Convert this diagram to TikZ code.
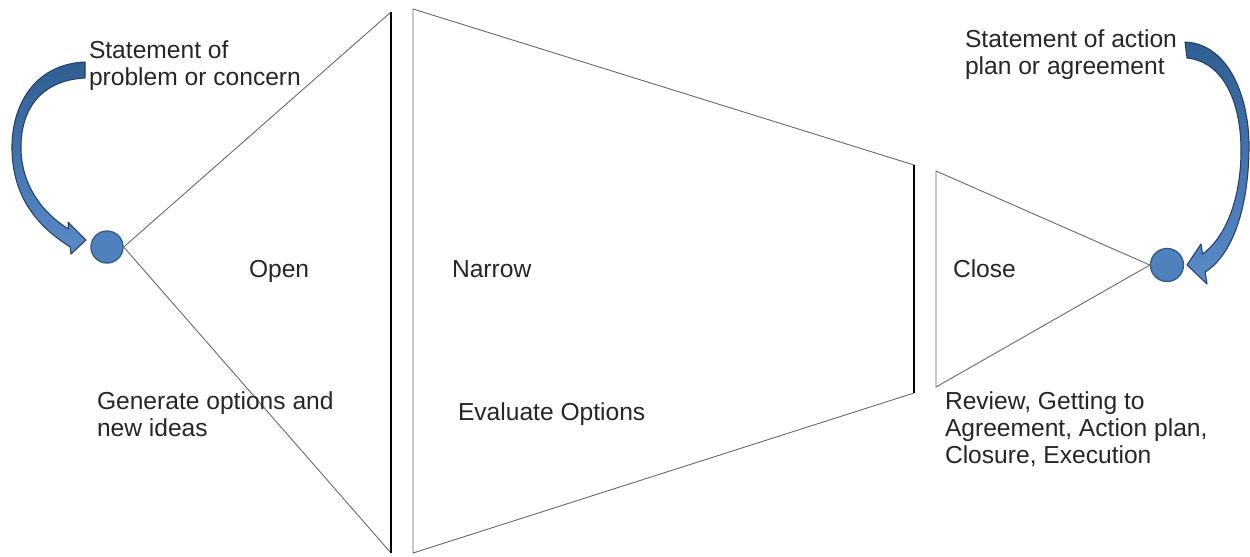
\documentclass[tikz,border=0pt]{standalone}
\usepackage{fontspec}
\setmainfont{Liberation Sans}
\definecolor{dotblue}{HTML}{4F81BD}
\definecolor{dotedge}{HTML}{385D8A}
\definecolor{arrtop}{HTML}{2F5E92}
\definecolor{arrbot}{HTML}{5A8BC8}
\definecolor{arredge}{HTML}{22406A}
\begin{document}
\begin{tikzpicture}[x=0.02cm,y=-0.02cm,
  lbl/.style={inner sep=0pt, outer sep=0pt, font=\fontsize{14pt}{15.3pt}\selectfont, text=black!85, align=left},
  edgeline/.style={draw=black!60, line width=0.5pt},
  boldline/.style={draw=black, line width=1.1pt},
  dotnode/.style={circle, fill=dotblue, draw=dotedge, line width=0.8pt, minimum size=0.64cm, inner sep=0pt},
  curvedarrow/.style={top color=arrtop, bottom color=arrbot, draw=arredge, line width=0.6pt, line join=round}
]
\useasboundingbox (0,0) rectangle (1250,556);

% dots
\node[dotnode] (L) at (107,247) {};
\node[dotnode, minimum size=0.66cm] (R) at (1167,265) {};

% open triangle
\coordinate (t1) at (391,12);
\coordinate (b1) at (391,553);
\draw[edgeline] (t1) -- (L.east) -- (b1);
\draw[boldline] (t1) -- (b1);

% narrow trapezoid
\coordinate (n1) at (413,9);
\coordinate (n2) at (914,165);
\coordinate (n3) at (914,393);
\coordinate (n4) at (413,553);
\draw[edgeline] (n3) -- (n4) -- (n1) -- (n2);
\draw[boldline] (n2) -- (n3);

% close triangle
\coordinate (c1) at (936,171);
\coordinate (c2) at (936,387);
\draw[edgeline] (c2) -- (c1) -- (R.west) -- cycle;

% left curved arrow
\shadedraw[curvedarrow]
  (85,62) .. controls (35,64) and (11,105) .. (12,150)
  .. controls (13,195) and (35,225) .. (70.3,247)
  -- (71,254) -- (86,240) -- (68,222) -- (68.6,229)
  .. controls (42,213) and (22,185) .. (21,150)
  .. controls (20,105) and (45,80) .. (85,78) -- cycle;

% right curved arrow
\shadedraw[curvedarrow]
  (1185,42) .. controls (1230,44) and (1250,100) .. (1249,150)
  .. controls (1248,210) and (1232,255) .. (1205.2,272)
  -- (1207,284) -- (1187,265) -- (1201,244) -- (1202.5,254)
  .. controls (1225,238) and (1241,200) .. (1241,150)
  .. controls (1241,105) and (1225,62) .. (1187,58) -- cycle;

% labels
\node[lbl, anchor=north west] (s1) at (89,41) {Statement of\\problem or concern};
\node[lbl, anchor=base west] (open) at (249,277) {Open};
\node[lbl, anchor=base west] (narrow) at (452,277) {Narrow};
\node[lbl, anchor=base west] (close) at (953,277) {Close};
\node[lbl, anchor=north west] (gen) at (97,392) {Generate options and\\new ideas};
\node[lbl, anchor=base west] (eval) at (458,420) {Evaluate Options};
\node[lbl, anchor=north west] (rev) at (945,392) {Review, Getting to\\Agreement, Action plan,\\Closure, Execution};
\node[lbl, anchor=north west] (s2) at (965,30) {Statement of action\\plan or agreement};
\end{tikzpicture}
\end{document}
